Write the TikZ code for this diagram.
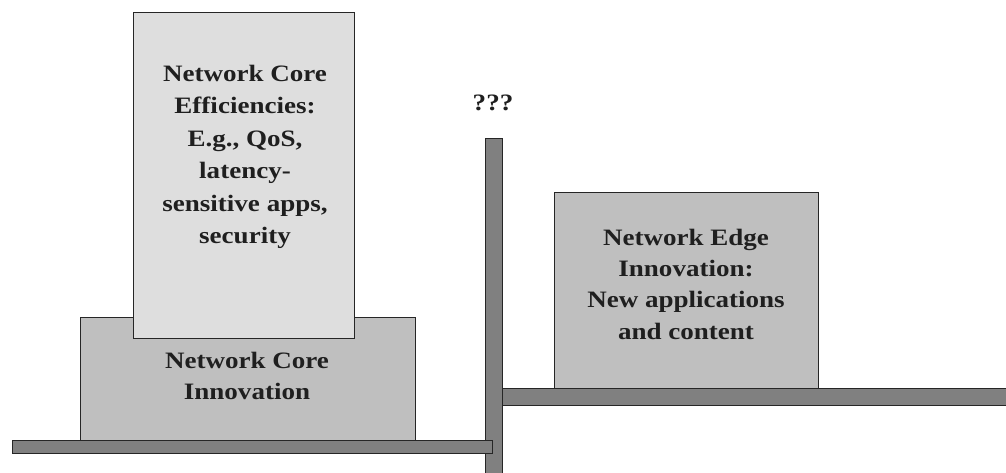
\documentclass[tikz,border=0pt]{standalone}
\usepackage{fontspec}
\setmainfont{Liberation Serif}
\begin{document}
\begin{tikzpicture}[x=1pt,y=-1pt,
  box/.style={draw=black!85, line width=1.3pt, inner sep=0pt, anchor=north west},
  bar/.style={draw=black!85, line width=1.3pt, fill=black!50, inner sep=0pt, anchor=north west},
  lab/.style={inner sep=0pt, text=black!88, font=\fontsize{23.5}{31.3}\selectfont\bfseries}
]
\useasboundingbox (0,0) rectangle (1006,473);
% pole
\node[bar, minimum width=17pt, minimum height=340pt] (pole) at (485,138) {};
% left shelf
\node[bar, minimum width=480pt, minimum height=13pt] (lshelf) at (12,440) {};
% right shelf
\node[bar, minimum width=510pt, minimum height=17pt] (rshelf) at (502,388) {};
% core innovation box
\node[box, fill=black!25, minimum width=335pt, minimum height=123pt] (coreinn) at (80,317) {};
% efficiencies box
\node[box, fill=black!13, minimum width=221pt, minimum height=326pt] (coreeff) at (133,12) {};
% edge box
\node[box, fill=black!25, minimum width=264pt, minimum height=196pt] (edge) at (554,192) {};
% labels
\node[lab, font=\fontsize{23.5}{32.4}\selectfont\bfseries] (efftext) at (245,156) {\scalebox{1.15}[1]{\begin{tabular}{@{}c@{}}Network Core\\Efficiencies:\\E.g., QoS,\\latency-\\sensitive apps,\\security\end{tabular}}};
\node[lab] (inntext) at (247,378) {\scalebox{1.15}[1]{\begin{tabular}{@{}c@{}}Network Core\\Innovation\end{tabular}}};
\node[lab] (edgetext) at (686,286) {\scalebox{1.15}[1]{\begin{tabular}{@{}c@{}}Network Edge\\Innovation:\\New applications\\and content\end{tabular}}};
\node[lab] (qqq) at (493,103) {\scalebox{1.15}[1]{???}};
\end{tikzpicture}
\end{document}
